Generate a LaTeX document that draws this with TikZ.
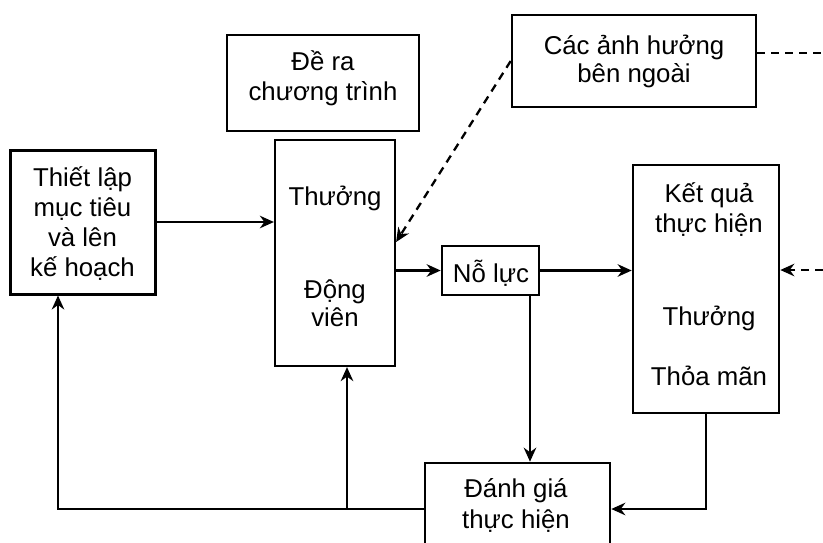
\documentclass[tikz,border=0pt]{standalone}
\usepackage{fontspec}
\setmainfont{Liberation Sans}
\usetikzlibrary{arrows.meta,calc}

\begin{document}
\begin{tikzpicture}[x=1pt,y=-1pt,
  box/.style={draw, line width=2.6pt, rectangle, inner sep=0pt},
  lbl/.style={anchor=base, inner sep=0pt, font=\fontsize{25.8}{30}\selectfont},
  conn/.style={line width=2.3pt, -{Stealth[length=14pt,width=12.5pt,inset=4.5pt]}},
  plain/.style={line width=2.3pt},
  dashy/.style={dash pattern=on 8pt off 6pt},
]
\useasboundingbox (0,0) rectangle (823,542);
\clip (0,0) rectangle (823,542);

% boxes
\node[box, line width=3pt, minimum width=145pt, minimum height=144pt] (A) at (82.5,222) {};
\node[box, minimum width=192pt, minimum height=96pt]  (B) at (323,83) {};
\node[box, line width=2.2pt, minimum width=120pt, minimum height=226pt] (C) at (335,253) {};
\node[box, minimum width=244pt, minimum height=92pt]  (D) at (634,61) {};
\node[box, minimum width=97pt,  minimum height=49pt]  (E) at (490.5,270.5) {};
\node[box, minimum width=146pt, minimum height=248pt] (F) at (706,289) {};
\node[box, minimum width=185pt, minimum height=92pt]  (G) at (517.5,509) {};

% labels
\node[lbl] (a1) at (82.5,186) {Thiết lập};
\node[lbl] (a2) at (82.5,216) {mục tiêu};
\node[lbl] (a3) at (82.5,246) {và lên};
\node[lbl] (a4) at (82.5,276) {kế hoạch};

\node[lbl] (b1) at (323,70)  {Đề ra};
\node[lbl] (b2) at (323,100) {chương trình};

\node[lbl] (c1) at (335,205) {Thưởng};
\node[lbl] (c2) at (335,298) {Động};
\node[lbl] (c3) at (335,326) {viên};

\node[lbl] (d1) at (634,54) {Các ảnh hưởng};
\node[lbl] (d2) at (634,82) {bên ngoài};

\node[lbl] (e1) at (491,282) {Nỗ lực};

\node[lbl] (f1) at (709,202) {Kết quả};
\node[lbl] (f2) at (709,232) {thực hiện};
\node[lbl] (f3) at (709,325) {Thưởng};
\node[lbl] (f4) at (709,385) {Thỏa mãn};

\node[lbl] (g1) at (516,497) {Đánh giá};
\node[lbl] (g2) at (516,528) {thực hiện};

% solid connectors
\draw[conn] (A.east) -- (A.east -| C.west);
\draw[conn] (E.west -| C.east) -- (E.west);
\draw[conn] (E.east) -- (E.east -| F.west);
\coordinate (ed) at ([xshift=39.5pt]E.south);
\draw[conn] (ed) -- (ed |- G.north);
\draw[conn] (F.south) |- (G.east);
\coordinate (au) at ([xshift=-24.5pt]A.south);
\draw[conn] (G.west) -| (au);
\coordinate (cu) at ([xshift=12pt]C.south);
\draw[conn] (cu |- G.west) -- (cu);

% external influences (dashed)
\draw[conn, dashy] (D.west) -- ([yshift=11pt]C.east);
\coordinate (dx) at (830,53);
\draw[plain, dashy] ([yshift=8pt]D.east) -- (dx);
\coordinate (rx) at (823,270);
\draw[conn, dashy] (rx) -- (rx -| F.east);
\end{tikzpicture}
\end{document}
